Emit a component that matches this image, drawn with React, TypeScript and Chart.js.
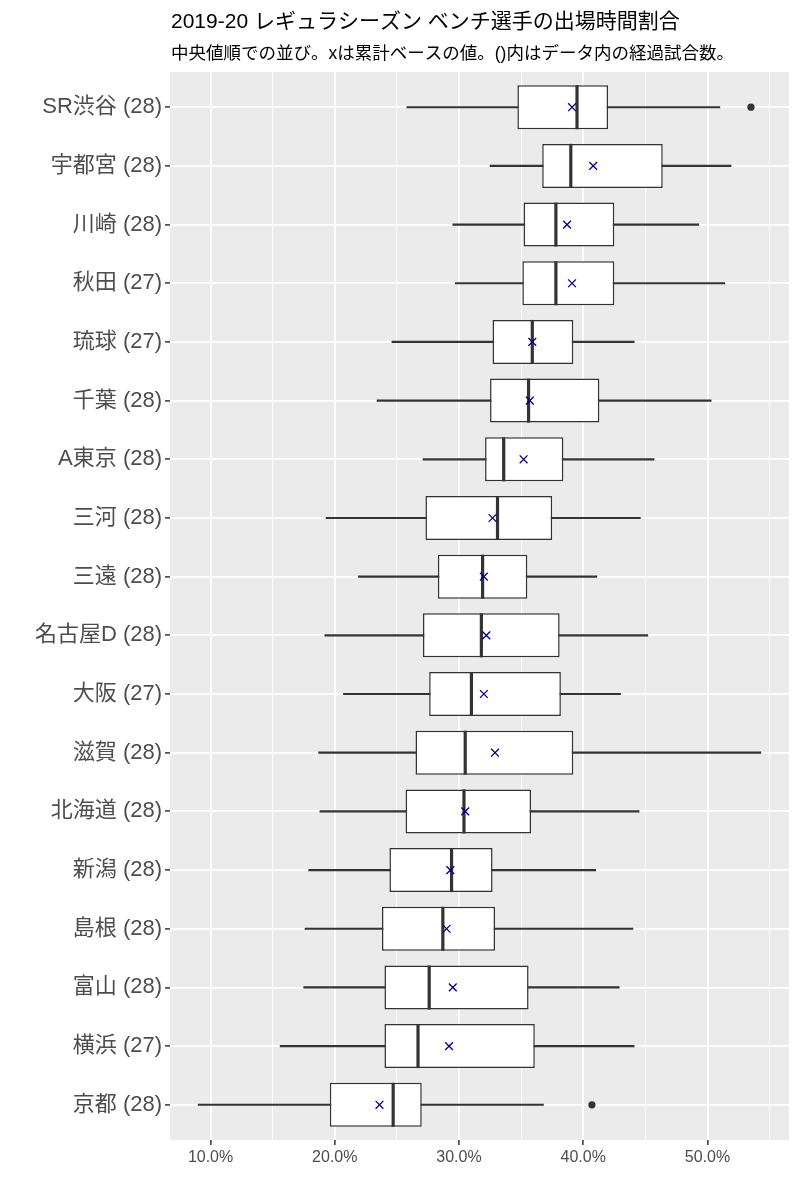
import React, { useEffect, useRef } from 'react';
import { Chart, registerables } from 'chart.js';

Chart.register(...registerables);

const FONT = '"Liberation Sans", "Noto Sans CJK JP", sans-serif';

const titleText = '2019-20 レギュラシーズン ベンチ選手の出場時間割合';
const subtitleText = '中央値順での並び。xは累計ベースの値。()内はデータ内の経過試合数。';

// top to bottom
const categories = [
  'SR渋谷 (28)', '宇都宮 (28)', '川崎 (28)', '秋田 (27)', '琉球 (27)', '千葉 (28)',
  'A東京 (28)', '三河 (28)', '三遠 (28)', '名古屋D (28)', '大阪 (27)', '滋賀 (28)',
  '北海道 (28)', '新潟 (28)', '島根 (28)', '富山 (28)', '横浜 (27)', '京都 (28)',
];
const whiskerLow = [25.8, 32.5, 29.5, 29.7, 24.6, 23.4, 27.1, 19.3, 21.9, 19.2, 20.7, 18.7, 18.8, 17.9, 17.6, 17.5, 15.6, 9.0];
const q1 = [34.7, 36.7, 35.2, 35.1, 32.7, 32.5, 32.1, 27.3, 28.3, 27.1, 27.6, 26.5, 25.7, 24.4, 23.8, 24.0, 24.0, 19.6];
const medians = [39.5, 39.0, 37.8, 37.8, 35.9, 35.6, 33.6, 33.1, 31.9, 31.8, 31.0, 30.5, 30.4, 29.4, 28.7, 27.6, 26.7, 24.7];
const q3 = [42.0, 46.4, 42.5, 42.5, 39.2, 41.3, 38.4, 37.5, 35.5, 38.1, 38.2, 39.2, 35.8, 32.7, 32.9, 35.6, 36.1, 27.0];
const whiskerHigh = [51.0, 51.9, 49.3, 51.4, 44.1, 50.3, 45.7, 44.6, 41.1, 45.2, 43.0, 54.3, 44.5, 41.0, 44.0, 42.9, 44.1, 36.8];
const means = [39.1, 40.8, 38.7, 39.1, 35.9, 35.7, 35.2, 32.7, 32.0, 32.2, 32.0, 32.9, 30.5, 29.3, 29.0, 29.5, 29.2, 23.6];

const outlierTeams = ['SR渋谷 (28)', '京都 (28)'];
const outlierValues = [53.5, 40.7];

const xMajorTicks = [10, 20, 30, 40, 50];
const xMajorLabels = ['10.0%', '20.0%', '30.0%', '40.0%', '50.0%'];
const xMinorTicks = [15, 25, 35, 45, 55];

export default function App() {
  const ref = useRef<HTMLCanvasElement>(null);

  useEffect(() => {
    const canvas = ref.current;
    if (!canvas) return;

    const allVals = [...whiskerLow, ...whiskerHigh, ...outlierValues, ...means];
    const dMin = Math.min(...allVals);
    const dMax = Math.max(...allVals);
    const expand = (dMax - dMin) * 0.05;

    const panelPlugin = {
      id: 'panelPlugin',
      beforeDraw(chart: any) {
        const { ctx, chartArea: a } = chart;
        ctx.save();
        ctx.fillStyle = '#EBEBEB';
        ctx.fillRect(a.left, a.top, a.right - a.left, a.bottom - a.top);
        ctx.restore();
      },
      afterDraw(chart: any) {
        const { ctx, chartArea: a } = chart;
        ctx.save();
        ctx.fillStyle = '#000000';
        ctx.textAlign = 'left';
        ctx.textBaseline = 'alphabetic';
        ctx.font = `21px ${FONT}`;
        ctx.fillText(titleText, a.left + 1, 28);
        ctx.font = `17.5px ${FONT}`;
        ctx.fillText(subtitleText, a.left + 1, 59);
        ctx.restore();
      },
    };

    const chart = new Chart(canvas, {
      type: 'bar',
      data: {
        datasets: [
          {
            type: 'scatter',
            label: 'mean',
            data: categories.map((_, i) => ({ x: means[i], y: i })),
            pointStyle: 'crossRot',
            pointRadius: 5.5,
            pointBorderColor: '#00008B',
            pointBackgroundColor: '#00008B',
            pointBorderWidth: 1.3,
            order: 0,
          } as any,
          {
            type: 'scatter',
            label: 'outlier',
            data: outlierTeams.map((t, k) => ({ x: outlierValues[k], y: categories.indexOf(t) })),
            pointStyle: 'circle',
            pointRadius: 3.6,
            pointBackgroundColor: '#333333',
            pointBorderColor: '#333333',
            pointBorderWidth: 0,
            order: 0,
          } as any,
          {
            type: 'scatter',
            label: 'median',
            data: categories.map((_, i) => ({ x: medians[i], y: i })),
            pointStyle: 'line',
            pointRotation: 90,
            pointRadius: 22,
            pointBorderColor: '#333333',
            pointBorderWidth: 3.2,
            order: 1,
          } as any,
          {
            type: 'bar',
            label: 'box',
            data: categories.map((_, i) => ({ x: [q1[i], q3[i]], y: i })),
            backgroundColor: '#FFFFFF',
            borderColor: '#333333',
            borderWidth: 1.5,
            borderSkipped: false,
            grouped: false,
            categoryPercentage: 1,
            barPercentage: 0.75,
            order: 2,
          } as any,
          {
            type: 'bar',
            label: 'whisker',
            data: categories.map((_, i) => ({ x: [whiskerLow[i], whiskerHigh[i]], y: i })),
            backgroundColor: '#333333',
            borderWidth: 0,
            barThickness: 1.5,
            grouped: false,
            order: 3,
          } as any,
        ],
      },
      options: {
        indexAxis: 'y',
        responsive: false,
        animation: false,
        layout: { autoPadding: false, padding: { top: 72, right: 11, left: 0, bottom: 0 } },
        plugins: {
          legend: { display: false },
          tooltip: { enabled: false },
          title: { display: false },
        },
        scales: {
          x: {
            type: 'linear',
            position: 'bottom',
            offset: false,
            beginAtZero: false,
            min: dMin - expand,
            max: dMax + expand,
            afterBuildTicks: (s: any) => {
              s.ticks = [...xMajorTicks, ...xMinorTicks]
                .sort((a, b) => a - b)
                .map((v) => ({ value: v }));
            },
            afterFit: (s: any) => {
              s.height = 60;
            },
            border: { display: false },
            grid: {
              offset: false,
              color: '#FFFFFF',
              lineWidth: (c: any) => (xMajorTicks.includes(c.tick?.value) ? 1.8 : 0.9),
              drawTicks: true,
              tickLength: 5,
              tickWidth: 1.5,
              tickColor: (c: any) => (xMajorTicks.includes(c.tick?.value) ? '#333333' : 'rgba(0,0,0,0)'),
            },
            ticks: {
              autoSkip: false,
              maxRotation: 0,
              minRotation: 0,
              padding: 3,
              color: '#4D4D4D',
              font: { family: FONT, size: 16 },
              callback: (v: any) => {
                const k = xMajorTicks.indexOf(Number(v));
                return k >= 0 ? xMajorLabels[k] : '';
              },
            },
          },
          y: {
            type: 'linear',
            position: 'left',
            reverse: true,
            offset: false,
            min: -0.6,
            max: categories.length - 1 + 0.6,
            afterBuildTicks: (s: any) => {
              s.ticks = categories.map((_, i) => ({ value: i }));
            },
            afterFit: (s: any) => {
              s.width = 170;
            },
            border: { display: false },
            grid: {
              offset: false,
              color: '#FFFFFF',
              lineWidth: 1.8,
              drawTicks: true,
              tickLength: 5,
              tickWidth: 1.5,
              tickColor: '#333333',
            },
            ticks: {
              autoSkip: false,
              padding: 3,
              color: '#4D4D4D',
              font: { family: FONT, size: 22 },
              callback: (v: any) => categories[Number(v)] ?? '',
            },
          },
        },
      } as any,
      plugins: [panelPlugin],
    });

    return () => chart.destroy();
  }, []);

  return (
    <div style={{ position: 'absolute', left: 0, top: 0, width: 800, height: 1200, background: '#FFFFFF' }}>
      <canvas ref={ref} width={800} height={1200} style={{ width: 800, height: 1200, display: 'block' }} />
    </div>
  );
}
